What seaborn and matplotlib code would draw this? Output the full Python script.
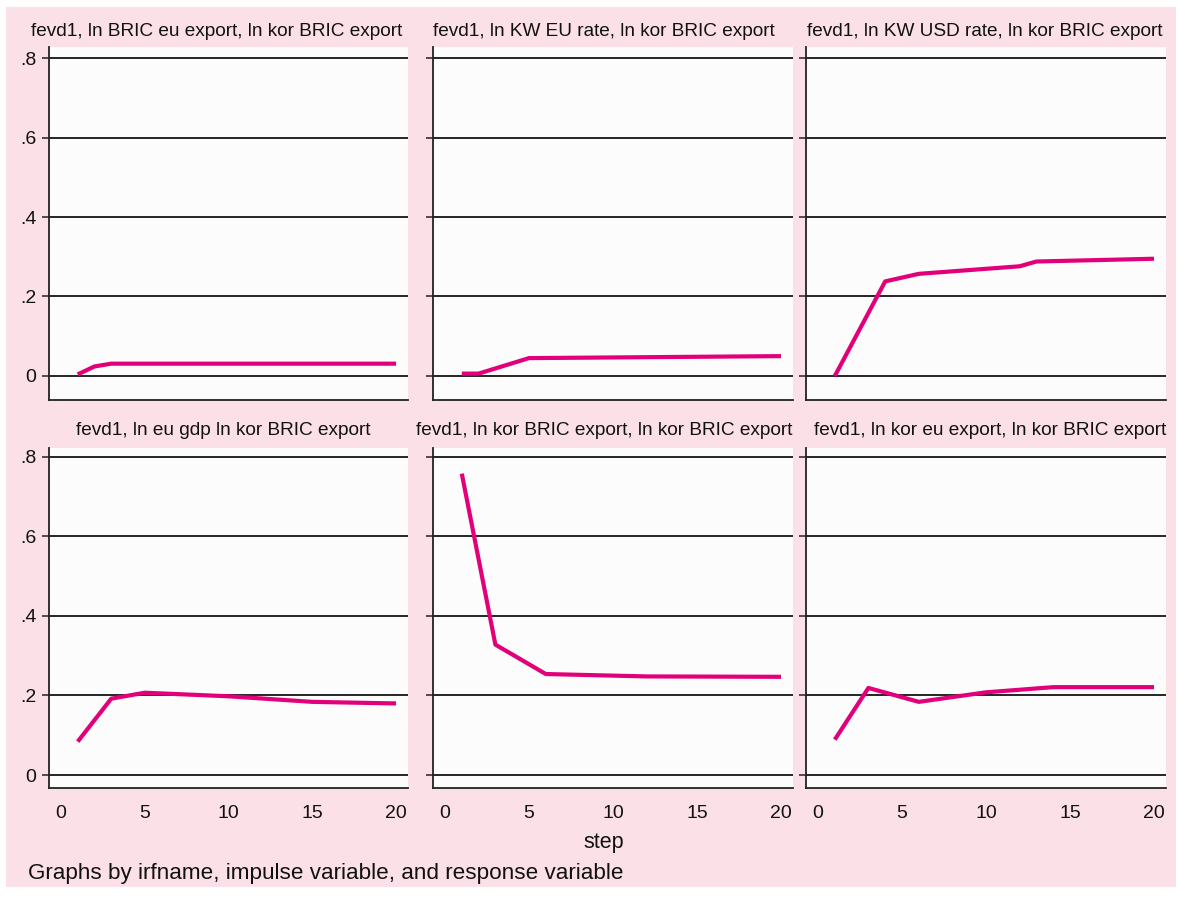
import matplotlib
matplotlib.use("Agg")
import matplotlib.pyplot as plt
from matplotlib.patches import Rectangle
import seaborn as sns
import pandas as pd

# Forecast-error variance decomposition of ln kor BRIC export, by impulse variable
titles = [
    "fevd1, ln BRIC eu export, ln kor BRIC export",
    "fevd1, ln KW EU rate, ln kor BRIC export",
    "fevd1, ln KW USD rate, ln kor BRIC export",
    "fevd1, ln eu gdp ln kor BRIC export",
    "fevd1, ln kor BRIC export, ln kor BRIC export",
    "fevd1, ln kor eu export, ln kor BRIC export",
]

steps_bric_eu = [1, 2, 3, 20]
fevd_bric_eu = [0.004, 0.024, 0.031, 0.031]

steps_kw_eu = [1, 2, 5, 20]
fevd_kw_eu = [0.006, 0.006, 0.045, 0.050]

steps_kw_usd = [1, 4, 6, 12, 13, 20]
fevd_kw_usd = [0.0, 0.238, 0.257, 0.276, 0.288, 0.295]

steps_eu_gdp = [1, 3, 5, 10, 15, 20]
fevd_eu_gdp = [0.084, 0.192, 0.207, 0.198, 0.184, 0.180]

steps_kor_bric = [1, 3, 6, 12, 20]
fevd_kor_bric = [0.758, 0.328, 0.254, 0.248, 0.247]

steps_kor_eu = [1, 3, 6, 10, 14, 20]
fevd_kor_eu = [0.089, 0.219, 0.184, 0.208, 0.221, 0.221]

series = [
    (steps_bric_eu, fevd_bric_eu),
    (steps_kw_eu, fevd_kw_eu),
    (steps_kw_usd, fevd_kw_usd),
    (steps_eu_gdp, fevd_eu_gdp),
    (steps_kor_bric, fevd_kor_bric),
    (steps_kor_eu, fevd_kor_eu),
]

y_ticks = [0, 0.2, 0.4, 0.6, 0.8]
y_tick_labels = ["0", ".2", ".4", ".6", ".8"]
x_ticks = [0, 5, 10, 15, 20]
x_tick_labels = ["0", "5", "10", "15", "20"]

frames = []
for title, (s, v) in zip(titles, series):
    frames.append(pd.DataFrame({"panel": title, "step": s, "fevd": v}))
df = pd.concat(frames, ignore_index=True)

sns.set_style("white")
plt.rcParams["font.family"] = ["Liberation Sans", "DejaVu Sans"]

W, H = 1179, 897
PINK = "#FBE1E7"
PLOT_BG = "#FDFCFC"
LINE = "#E2007A"

fig = plt.figure(figsize=(W / 100, H / 100), dpi=100, facecolor="white")
fig.patches.append(Rectangle((6 / W, 1 - 887 / H), 1170 / W, 880 / H,
                             transform=fig.transFigure, facecolor=PINK,
                             edgecolor="none", zorder=-10))

cols = [(49, 408), (433, 793), (806, 1166)]
rows = [(47, 400, (-0.0604, 0.8277), 32), (448, 788, (-0.0327, 0.8226), 430)]
title_centers = [217, 604, 985, 223, 604, 990]

for i, title in enumerate(titles):
    r, c = divmod(i, 3)
    x0, x1 = cols[c]
    top, bottom, ylim, title_y = rows[r]
    ax = fig.add_axes([x0 / W, 1 - bottom / H, (x1 - x0) / W, (bottom - top) / H])
    ax.set_facecolor(PLOT_BG)
    sns.lineplot(data=df[df["panel"] == title], x="step", y="fevd", ax=ax,
                 color=LINE, linewidth=3.0, solid_capstyle="butt", zorder=5)
    ax.set_xlim(-0.714, 20.714)
    ax.set_ylim(*ylim)
    ax.set_yticks(y_ticks)
    ax.set_xticks(x_ticks)
    ax.yaxis.grid(True, color="black", linewidth=1.2)
    ax.xaxis.grid(False)
    ax.set_axisbelow(True)
    for side in ("top", "right"):
        ax.spines[side].set_visible(False)
    for side in ("left", "bottom"):
        ax.spines[side].set_color("#222222")
        ax.spines[side].set_linewidth(1.3)
    ax.tick_params(axis="y", direction="out", length=5, width=1.1, color="#222222",
                   labelsize=14, pad=4, left=True, labelcolor="#111111")
    ax.tick_params(axis="x", length=0, labelsize=14, pad=12, labelcolor="#111111")
    if c == 0:
        ax.set_yticklabels(y_tick_labels)
    else:
        ax.set_yticklabels([])
    if r == 1:
        ax.set_xticklabels(x_tick_labels)
    else:
        ax.set_xticklabels([])
    ax.set_xlabel("")
    ax.set_ylabel("")
    fig.text(title_centers[i] / W, 1 - title_y / H, title, ha="center", va="center",
             fontsize=13.7, color="#111111")

fig.text(604 / W, 1 - 842 / H, "step", ha="center", va="center", fontsize=15.5,
         color="#111111")
fig.text(28 / W, 1 - 873 / H, "Graphs by irfname, impulse variable, and response variable",
         ha="left", va="center", fontsize=16.2, color="#111111")

fig.savefig("out.png", dpi=100, facecolor=fig.get_facecolor())
